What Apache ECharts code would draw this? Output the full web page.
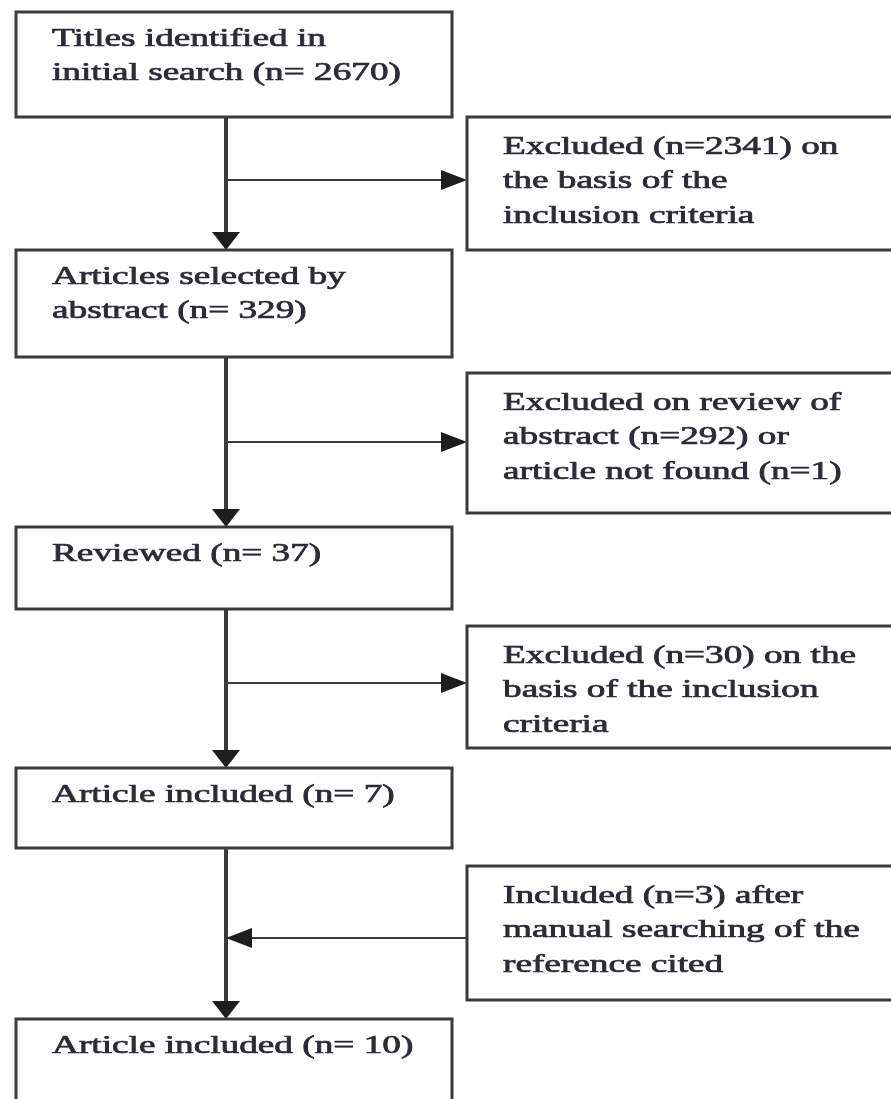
<!DOCTYPE html>
<html>
<head>
<meta charset="utf-8">
<script src="https://cdn.jsdelivr.net/npm/echarts@6/dist/echarts.min.js"></script>
<style>
  html, body { margin: 0; padding: 0; background: #fff; }
  #chart { width: 891px; height: 1099px; }
</style>
</head>
<body>
<div id="chart"></div>
<script>
// flow steps (main column) and side notes
const mainLabels = [
  'Titles identified in\ninitial search (n= 2670)',
  'Articles selected by\nabstract (n= 329)',
  'Reviewed (n= 37)',
  'Article included (n= 7)',
  'Article included (n= 10)'
];
const sideLabels = [
  'Excluded (n=2341) on\nthe basis of the\ninclusion criteria',
  'Excluded on review of\nabstract (n=292) or\narticle not found (n=1)',
  'Excluded (n=30) on the\nbasis of the inclusion\ncriteria',
  'Included (n=3) after\nmanual searching of the\nreference cited'
];
const sideFlow = ['out', 'out', 'out', 'in'];

// layout, in the diagram's own units (0..891 x 0..1099)
const mainTop = [12, 250, 527, 768, 1019];
const mainBottom = [117, 357, 609, 848, 1120];
const sideTop = [117, 373, 626, 866];
const sideBottom = [250, 513, 748, 1000];
const sideArrowY = [180, 442, 683, 938];
const mainLeft = 16, mainRight = 452, sideLeft = 467, sideRight = 900, trunkX = 226;

const ink = '#3a3a3a';
const textColor = '#2b2b35';

const chart = echarts.init(document.getElementById('chart'));

const mainData = mainLabels.map((_, i) => [mainLeft, mainTop[i], mainRight, mainBottom[i]]);
const sideData = sideLabels.map((_, i) => [sideLeft, sideTop[i], sideRight, sideBottom[i]]);
const trunkData = mainLabels.slice(1).map((_, i) => [trunkX, mainBottom[i], mainTop[i + 1]]);
const branchData = sideLabels.map((_, i) =>
  sideFlow[i] === 'out' ? [trunkX, sideLeft, sideArrowY[i]] : [sideLeft, trunkX, sideArrowY[i]]
);

function boxRenderer(labels, textDy) {
  return function (params, api) {
    const p0 = api.coord([api.value(0), api.value(1)]);
    const p1 = api.coord([api.value(2), api.value(3)]);
    return {
      type: 'group',
      children: [
        {
          type: 'rect',
          shape: { x: p0[0], y: p0[1], width: p1[0] - p0[0], height: p1[1] - p0[1] },
          style: { fill: '#fff', stroke: ink, lineWidth: 3 }
        },
        {
          type: 'text',
          x: p0[0] + 36,
          y: p0[1] + textDy,
          scaleX: 1.49,
          style: {
            text: labels[params.dataIndex],
            font: '25px "Liberation Serif", "Times New Roman", serif',
            fill: textColor,
            stroke: textColor,
            lineWidth: 0.7,
            lineHeight: 34.5,
            verticalAlign: 'top',
            align: 'left'
          }
        }
      ]
    };
  };
}

// vertical arrows between main steps
function trunkRenderer(params, api) {
  const top = api.coord([api.value(0), api.value(1)]);
  const tip = api.coord([api.value(0), api.value(2)]);
  const len = 18, half = 14;
  return {
    type: 'group',
    children: [
      {
        type: 'line',
        shape: { x1: top[0], y1: top[1], x2: tip[0], y2: tip[1] - len + 2 },
        style: { stroke: ink, lineWidth: 4 }
      },
      {
        type: 'polygon',
        shape: { points: [[tip[0], tip[1]], [tip[0] - half, tip[1] - len], [tip[0] + half, tip[1] - len]] },
        style: { fill: '#1e1e1e' }
      }
    ]
  };
}

// horizontal arrows to/from the side notes
function branchRenderer(params, api) {
  const from = api.coord([api.value(0), api.value(2)]);
  const tip = api.coord([api.value(1), api.value(2)]);
  const dir = tip[0] > from[0] ? 1 : -1;
  const len = 26, half = 10;
  return {
    type: 'group',
    children: [
      {
        type: 'line',
        shape: { x1: from[0], y1: from[1], x2: tip[0] - dir * (len - 2), y2: tip[1] },
        style: { stroke: ink, lineWidth: 2 }
      },
      {
        type: 'polygon',
        shape: { points: [[tip[0], tip[1]], [tip[0] - dir * len, tip[1] - half], [tip[0] - dir * len, tip[1] + half]] },
        style: { fill: '#1e1e1e' }
      }
    ]
  };
}

const option = {
  animation: false,
  backgroundColor: '#fff',
  grid: { left: 0, right: 0, top: 0, bottom: 0 },
  xAxis: { type: 'value', min: 0, max: 891, show: false },
  yAxis: { type: 'value', min: 0, max: 1099, inverse: true, show: false },
  series: [
    { type: 'custom', name: 'trunk', data: trunkData, renderItem: trunkRenderer, silent: true },
    { type: 'custom', name: 'branch', data: branchData, renderItem: branchRenderer, silent: true },
    { type: 'custom', name: 'main', data: mainData, renderItem: boxRenderer(mainLabels, 10), silent: true },
    { type: 'custom', name: 'side', data: sideData, renderItem: boxRenderer(sideLabels, 13), silent: true }
  ]
};

chart.setOption(option);
</script>
</body>
</html>
